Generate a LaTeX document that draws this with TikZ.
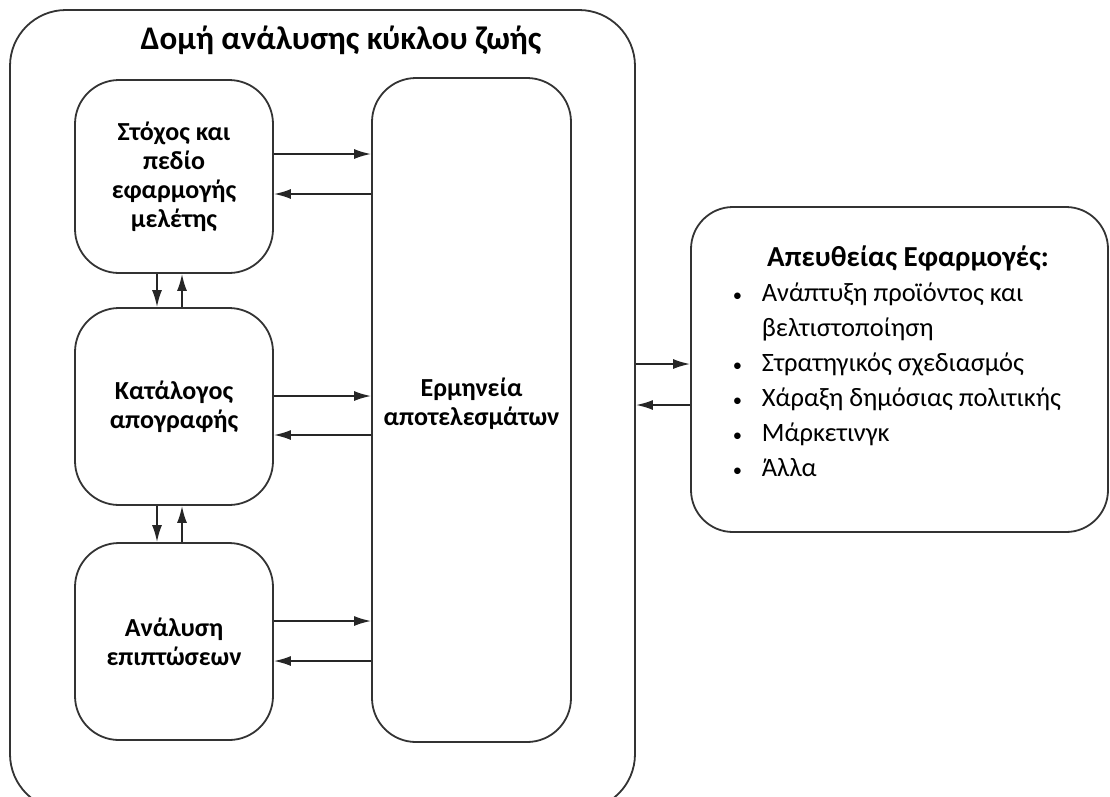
\documentclass[tikz,border=0pt]{standalone}
\usepackage{fontspec}
\setmainfont{Carlito}
\usetikzlibrary{arrows.meta}

\begin{document}
\begin{tikzpicture}[x=1pt, y=-1pt,
        box/.style={draw=black!80, line width=1.8pt, rounded corners=44pt, align=center,
                    font=\fontsize{26}{29}\selectfont\bfseries},
        arr/.style={-{Latex[length=17pt,width=10pt]}, line width=1.8pt, draw=black!85}]
    \useasboundingbox (0,0) rectangle (1110,796);
    % main frame and its stages
    \node[box, rounded corners=56pt, minimum width=625pt, minimum height=800pt] (frame) at (322.5,410) {};
    \node[font=\fontsize{33}{38}\selectfont\bfseries] (title) at (341,40) {Δομή ανάλυσης κύκλου ζωής};
    \node[box, minimum width=198pt, minimum height=193pt] (stoxos) at (174,176.5)
        {Στόχος και\\πεδίο\\εφαρμογής\\μελέτης};
    \node[box, minimum width=198pt, minimum height=197pt] (katalogos) at (174,406.5)
        {Κατάλογος\\απογραφής};
    \node[box, minimum width=198pt, minimum height=197pt] (analysi) at (174,641.5)
        {Ανάλυση\\επιπτώσεων};
    \node[box, minimum width=199pt, minimum height=664pt] (erm) at (471.5,410)
        {Ερμηνεία\\αποτελεσμάτων\\[-13pt]};
    % applications
    \node[box, rounded corners=42pt, minimum width=417pt, minimum height=325pt] (efarm) at (899.5,369.5) {};
    \node[font=\fontsize{26.5}{35}\selectfont] (efarmtext) at (897,364) {%
        \begin{tabular}{@{}p{29pt}@{}l@{}}
        \multicolumn{2}{c}{\hspace{22pt}\fontsize{29}{35}\selectfont\bfseries Απευθείας Εφαρμογές:}\\
        \scalebox{0.7}{\textbullet} & Ανάπτυξη προϊόντος και\\
                    & βελτιστοποίηση\\
        \scalebox{0.7}{\textbullet} & Στρατηγικός σχεδιασμός\\
        \scalebox{0.7}{\textbullet} & Χάραξη δημόσιας πολιτικής\\
        \scalebox{0.7}{\textbullet} & Μάρκετινγκ\\
        \scalebox{0.7}{\textbullet} & Άλλα
        \end{tabular}};
    % arrows
    \foreach \b/\ya/\yb in {stoxos/154/194, katalogos/396/435, analysi/621/661}{
        \draw[arr] (\b.east |- 0,\ya) -- (erm.west |- 0,\ya);
        \draw[arr] (erm.west |- 0,\yb) -- (\b.east |- 0,\yb);
    }
    \foreach \u/\l in {stoxos/katalogos, katalogos/analysi}{
        \draw[arr] ([xshift=-17pt]\u.south) -- ([xshift=-17pt]\l.north);
        \draw[arr] ([xshift=8pt]\l.north) -- ([xshift=8pt]\u.south);
    }
    \draw[arr] (frame.east |- 0,364) -- (efarm.west |- 0,364);
    \draw[arr] (efarm.west |- 0,405) -- (frame.east |- 0,405);
\end{tikzpicture}
\end{document}
